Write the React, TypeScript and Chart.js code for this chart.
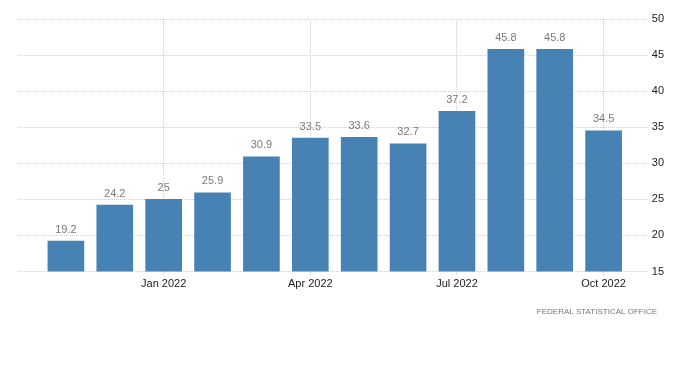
import React, { useEffect, useRef } from "react";
import { Chart, registerables } from "chart.js";

Chart.register(...registerables);

const months = [
  "Nov 2021", "Dec 2021", "Jan 2022", "Feb 2022", "Mar 2022", "Apr 2022",
  "May 2022", "Jun 2022", "Jul 2022", "Aug 2022", "Sep 2022", "Oct 2022",
];
const values = [19.2, 24.2, 25, 25.9, 30.9, 33.5, 33.6, 32.7, 37.2, 45.8, 45.8, 34.5];
const valueLabels = ["19.2", "24.2", "25", "25.9", "30.9", "33.5", "33.6", "32.7", "37.2", "45.8", "45.8", "34.5"];
const tickedMonths = ["Jan 2022", "Apr 2022", "Jul 2022", "Oct 2022"];
const yMin = 15;
const yMax = 50;
const yStep = 5;
const sourceText = "FEDERAL STATISTICAL OFFICE";

const FONT = "'Liberation Sans', Arial, sans-serif";

export default function App() {
  const ref = useRef<HTMLCanvasElement | null>(null);

  useEffect(() => {
    document.body.style.margin = "0";
    const canvas = ref.current;
    if (!canvas) return;

    const labelPlugin = {
      id: "valueLabels",
      afterDatasetsDraw(chart: any) {
        const ctx = chart.ctx;
        const meta = chart.getDatasetMeta(0);
        ctx.save();
        ctx.font = `11px ${FONT}`;
        ctx.fillStyle = "#7a7a7a";
        ctx.textAlign = "center";
        ctx.textBaseline = "bottom";
        meta.data.forEach((bar: any, i: number) => {
          ctx.fillText(valueLabels[i], bar.x, bar.y - 6);
        });
        ctx.restore();
      },
      afterDraw(chart: any) {
        const ctx = chart.ctx;
        ctx.save();
        ctx.font = `8px ${FONT}`;
        ctx.fillStyle = "#777";
        ctx.textAlign = "right";
        ctx.textBaseline = "middle";
        ctx.fillText(sourceText, 657, 312);
        ctx.restore();
      },
    };

    const chart = new Chart(canvas, {
      type: "bar",
      data: {
        datasets: [
          {
            data: values.map((v, i) => ({ x: i, y: v })),
            backgroundColor: "#4682b4",
            borderWidth: 0,
            barThickness: 36,
          },
        ],
      },
      options: {
        animation: false,
        responsive: false,
        devicePixelRatio: 1,
        layout: { padding: { left: 18, top: 19, right: 32, bottom: 78.3 } },
        plugins: { legend: { display: false }, tooltip: { enabled: false } },
        scales: {
          x: {
            type: "linear",
            offset: false,
            min: -0.98,
            max: 11.74,
            afterBuildTicks: (scale: any) => {
              scale.ticks = tickedMonths.map((m) => ({ value: months.indexOf(m) }));
            },
            ticks: {
              callback: (v: any) => months[Math.round(Number(v))],
              color: "#222",
              font: { family: FONT, size: 11 },
              padding: 2,
              maxRotation: 0,
              autoSkip: false,
            },
            grid: {
              offset: false,
              color: "#d0d0d0",
              tickColor: "#d0d0d0",
              tickLength: 4,
              tickBorderDash: [1, 1],
            },
            border: { display: false, dash: [1, 1] },
          },
          y: {
            position: "right",
            min: yMin,
            max: yMax,
            ticks: {
              stepSize: yStep,
              color: "#222",
              font: { family: FONT, size: 11 },
              padding: 4,
            },
            grid: {
              color: "#d0d0d0",
              tickColor: "#d0d0d0",
              tickLength: 8,
              tickBorderDash: [1, 1],
            },
            border: { display: false, dash: [1, 1] },
          },
        },
      },
      plugins: [labelPlugin],
    } as any);

    return () => chart.destroy();
  }, []);

  return (
    <div style={{ position: "absolute", left: 0, top: 0, width: 700, height: 371 }}>
      <canvas ref={ref} width={700} height={371} />
    </div>
  );
}
